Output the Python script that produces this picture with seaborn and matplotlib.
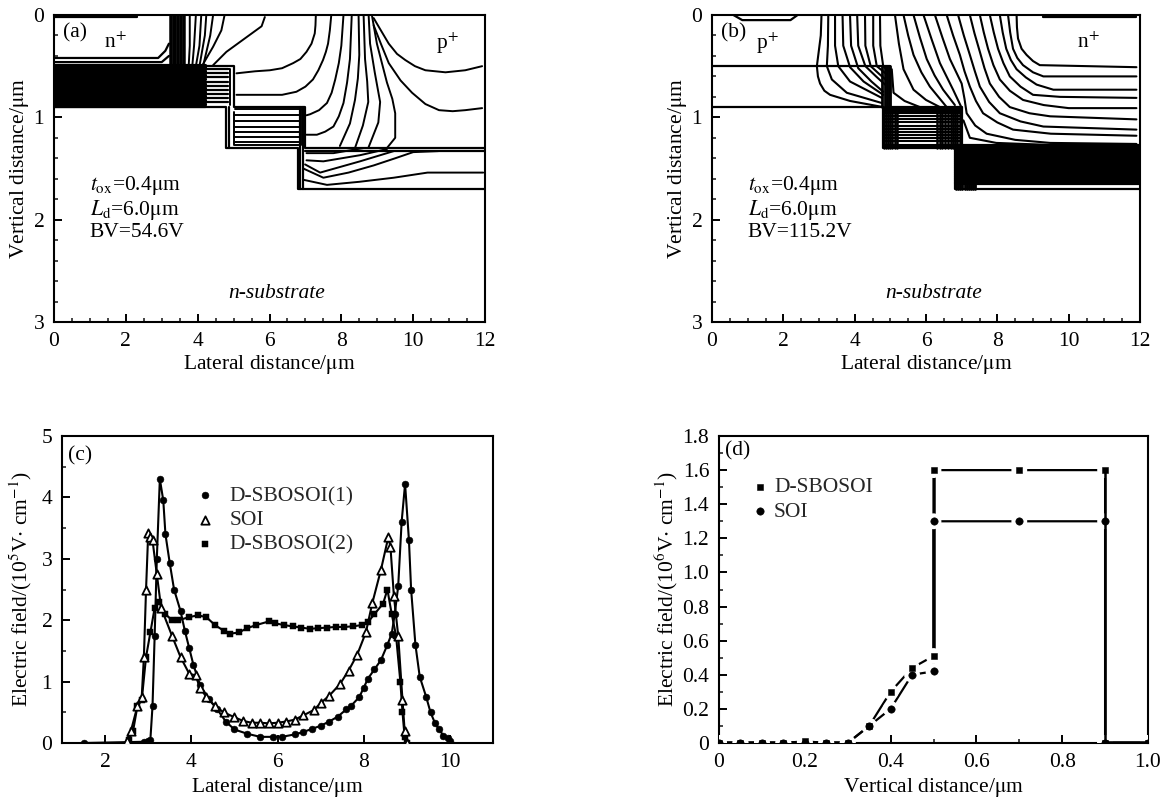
import numpy as np
import pandas as pd
import matplotlib
matplotlib.use("Agg")
import matplotlib.pyplot as plt
import seaborn as sns
from matplotlib.ticker import MultipleLocator

# ---- panel (a) contours, (lateral, vertical) in um
a_outline = [
    [(0, 0.9), (4.8, 0.9), (4.8, 1.3), (6.8, 1.3), (6.8, 1.7), (12, 1.7)],
    [(0, 0.5), (5.0, 0.5), (5.0, 0.9), (7.0, 0.9), (7.0, 1.3), (12, 1.3)],
    [(7.0, 1.33), (12, 1.33)],
    [(0, 0.42), (2.9, 0.42), (3.1, 0.35), (3.2, 0.28)],
    [(0, 0.46), (3.0, 0.46), (3.2, 0.4)],
    [(0, 0.005), (2.3, 0.005)],
    [(0, 0.015), (2.3, 0.015)],
    [(6.85, 0.9), (6.85, 1.7)],
    [(6.93, 0.9), (6.93, 1.7)],
    [(4.88, 0.9), (4.88, 1.3)],
]
a_band_x = [3.22, 3.26, 3.3, 3.34, 3.38, 3.42, 3.46, 3.5, 3.54, 3.58, 3.62]
a_oxide_levels = [0.49, 0.51, 0.53, 0.55, 0.57, 0.59, 0.61, 0.63, 0.65, 0.67, 0.69, 0.71,
                  0.73, 0.75, 0.77, 0.79, 0.81, 0.83, 0.85, 0.87, 0.89]
a_hatch_levels = [0.53, 0.57, 0.61, 0.65, 0.69, 0.73, 0.77, 0.81, 0.85]
a_mid_levels = [0.98, 1.04, 1.09, 1.14, 1.19, 1.24]
a_contours = [
    [(3.78, 0), (3.78, 0.3), (3.75, 0.5)],
    [(3.95, 0), (3.9, 0.3), (3.85, 0.5)],
    [(4.1, 0), (4.05, 0.3), (3.95, 0.5)],
    [(4.24, 0), (4.2, 0.2), (4.05, 0.5)],
    [(4.43, 0), (4.35, 0.2), (4.15, 0.5)],
    [(4.75, 0), (4.66, 0.15), (4.43, 0.31), (4.15, 0.48)],
    [(5.87, 0.02), (5.78, 0.11), (5.27, 0.24), (4.8, 0.36), (4.43, 0.49)],
    [(7.29, 0), (7.28, 0.1), (7.26, 0.18), (7.17, 0.28), (7.03, 0.36), (6.86, 0.43), (6.66, 0.47),
     (6.35, 0.52), (6.01, 0.54), (5.6, 0.55), (5.08, 0.57)],
    [(7.72, 0), (7.68, 0.15), (7.63, 0.28), (7.57, 0.36), (7.49, 0.44), (7.36, 0.54), (7.21, 0.63),
     (7.0, 0.7), (6.75, 0.75), (6.35, 0.78), (5.92, 0.78), (5.08, 0.78)],
    [(8.06, 0), (8.0, 0.3), (7.93, 0.47), (7.83, 0.63), (7.73, 0.76), (7.6, 0.86), (7.38, 0.93),
     (7.13, 0.97), (7.03, 0.98)],
    [(8.29, 0), (8.24, 0.43), (8.16, 0.66), (8.06, 0.86), (7.93, 0.99), (7.78, 1.09), (7.55, 1.14),
     (7.32, 1.17), (7.03, 1.17)],
    [(8.48, 0), (8.5, 0.39), (8.46, 0.62), (8.38, 0.83), (8.24, 1.06), (7.96, 1.28)],
    [(8.62, 0), (8.66, 0.43), (8.72, 0.65), (8.75, 0.85), (8.6, 1.08), (8.38, 1.3)],
    [(8.76, 0), (8.8, 0.28), (8.93, 0.56), (9.08, 0.85), (9.03, 1.05), (8.75, 1.3)],
    [(8.85, 0), (8.99, 0.28), (9.27, 0.66), (9.42, 0.82), (9.5, 0.96), (9.5, 1.2), (9.27, 1.3)],
    [(8.9, 0.03), (9.05, 0.12), (9.32, 0.28), (9.55, 0.38), (9.78, 0.44), (10.05, 0.5), (10.34, 0.54),
     (10.9, 0.56), (11.45, 0.54), (11.92, 0.5)],
    [(8.9, 0.1), (9.1, 0.28), (9.32, 0.47), (9.65, 0.64), (9.97, 0.76), (10.34, 0.87), (10.72, 0.93),
     (11.1, 0.94), (11.45, 0.93), (11.92, 0.91)],
    [(7.03, 1.35), (7.78, 1.35), (8.62, 1.3)],
    [(7.03, 1.42), (7.5, 1.43), (8.52, 1.37), (9.27, 1.31)],
    [(6.99, 1.46), (7.41, 1.54), (8.52, 1.43), (9.46, 1.33)],
    [(6.94, 1.5), (7.5, 1.59), (8.2, 1.54), (8.9, 1.47), (9.5, 1.4), (10.0, 1.34), (10.7, 1.33)],
    [(6.94, 1.61), (7.6, 1.66), (8.5, 1.63), (9.46, 1.59), (10.4, 1.54), (11.95, 1.54)],
    [(5.0, 0.95), (5.0, 1.27), (6.85, 1.27)],
    [(5.05, 0.92), (6.9, 0.92), (6.9, 1.27)],
    [(4.4, 0.53), (4.9, 0.53), (4.9, 0.88)],
]

# ---- panel (b) contours
b_outline = [
    [(0, 0.9), (4.8, 0.9), (4.8, 1.3), (6.8, 1.3), (6.8, 1.7), (12, 1.7)],
    [(0, 0.5), (5.0, 0.5), (5.0, 0.9), (7.0, 0.9), (7.0, 1.3), (12, 1.3)],
    [(9.29, 0.005), (11.9, 0.005)],
    [(9.29, 0.015), (11.9, 0.015)],
    [(0.6, 0), (0.85, 0.05), (2.2, 0.05), (2.4, 0)],
]
b_contours = [
    [(3.07, 0), (3.05, 0.2), (2.94, 0.5), (2.97, 0.6), (3.03, 0.67), (3.15, 0.74), (3.31, 0.78),
     (3.87, 0.84), (4.8, 0.9)],
    [(3.26, 0), (3.25, 0.3), (3.22, 0.5), (3.36, 0.63), (3.78, 0.76), (4.76, 0.86)],
    [(3.45, 0), (3.45, 0.3), (3.54, 0.5), (3.87, 0.65), (4.76, 0.81)],
    [(3.66, 0), (3.68, 0.3), (3.87, 0.51), (4.25, 0.65), (4.8, 0.78)],
    [(3.87, 0), (3.9, 0.3), (4.1, 0.52), (4.47, 0.65), (4.8, 0.75)],
    [(4.07, 0), (4.1, 0.3), (4.3, 0.5), (4.6, 0.6), (4.85, 0.68)],
    [(4.29, 0), (4.3, 0.3), (4.45, 0.5), (4.7, 0.58), (4.9, 0.64)],
    [(4.52, 0), (4.52, 0.3), (4.62, 0.5), (4.9, 0.58)],
    [(4.71, 0), (4.72, 0.3), (4.8, 0.5), (4.95, 0.55)],
    [(8.54, 0), (8.55, 0.12), (8.58, 0.23), (8.68, 0.33), (8.82, 0.39), (9.0, 0.45), (9.19, 0.49), (11.9, 0.51)],
    [(8.3, 0), (8.36, 0.17), (8.44, 0.33), (8.56, 0.42), (8.72, 0.49), (9.0, 0.56), (9.29, 0.6), (11.9, 0.6)],
    [(8.07, 0), (8.15, 0.17), (8.25, 0.33), (8.38, 0.44), (8.54, 0.53), (8.8, 0.61), (9.1, 0.68),
     (9.57, 0.73), (11.9, 0.73)],
    [(7.79, 0), (7.9, 0.17), (8.02, 0.33), (8.17, 0.47), (8.35, 0.6), (8.65, 0.7), (9.0, 0.78),
     (9.76, 0.8), (11.9, 0.81)],
    [(7.51, 0), (7.62, 0.17), (7.74, 0.33), (7.89, 0.49), (8.07, 0.63), (8.35, 0.74), (8.72, 0.83),
     (9.3, 0.88), (10.0, 0.91), (11.9, 0.91)],
    [(7.23, 0), (7.36, 0.18), (7.51, 0.36), (7.64, 0.52), (7.79, 0.67), (8.05, 0.8), (8.35, 0.9),
     (8.9, 0.96), (9.48, 0.99), (11.9, 1.02)],
    [(6.9, 0), (7.06, 0.2), (7.23, 0.39), (7.37, 0.55), (7.51, 0.7), (7.77, 0.85), (8.07, 0.96),
     (8.65, 1.04), (9.29, 1.09), (11.9, 1.12)],
    [(6.58, 0), (6.76, 0.2), (6.95, 0.39), (7.08, 0.55), (7.23, 0.7), (7.4, 0.84), (7.6, 0.96),
     (8.0, 1.05), (8.44, 1.12), (9.5, 1.16), (11.9, 1.18)],
    [(6.25, 0), (6.46, 0.22), (6.67, 0.43), (7.0, 0.67), (7.08, 0.82), (7.14, 0.96), (7.38, 1.08),
     (7.7, 1.16), (8.5, 1.22), (9.48, 1.25), (11.9, 1.26)],
    [(7.05, 1.03), (7.23, 1.2), (7.97, 1.25), (9.48, 1.27)],
    [(5.93, 0), (6.16, 0.24), (6.39, 0.47), (6.76, 0.73), (6.99, 0.9)],
    [(5.65, 0), (5.83, 0.22), (6.02, 0.43), (6.24, 0.59), (6.48, 0.73), (6.81, 0.88)],
    [(5.37, 0), (5.5, 0.2), (5.65, 0.39), (5.87, 0.56), (6.11, 0.7), (6.58, 0.9)],
    [(5.13, 0), (5.24, 0.28), (5.37, 0.53), (5.65, 0.73), (6.0, 0.83), (6.39, 0.9)],
    [(5.04, 0.53), (5.09, 0.76), (5.4, 0.84), (5.83, 0.9)],
]
b_band_x = [4.78, 4.84, 4.9, 4.96, 5.0]
b_sub_levels = [1.27, 1.29, 1.31, 1.33, 1.35, 1.37, 1.39, 1.41, 1.43, 1.45, 1.47, 1.49, 1.51,
                1.53, 1.55, 1.57, 1.59, 1.61, 1.63, 1.645]
b_sub_left_x = [6.84, 6.9, 6.96, 7.02, 7.08, 7.14, 7.2, 7.26, 7.32, 7.37]
b_mid_levels = [0.92, 0.94, 0.96, 0.99, 1.02, 1.05, 1.08, 1.11, 1.14, 1.17, 1.2, 1.23, 1.27, 1.29]
b_mid_left_x = [4.82, 4.88, 4.94, 5.0, 5.06, 5.12, 5.18]
b_mid_right_x = [6.3, 6.38, 6.46, 6.54, 6.62, 6.7, 6.76, 6.82, 6.88, 6.94]

# ---- panel (c), electric field along lateral distance
c_dsb1_x = [1.5, 2.9, 3.0, 3.05, 3.1, 3.15, 3.2, 3.27, 3.35, 3.4, 3.5, 3.6, 3.75, 3.85, 3.95, 4.05,
            4.2, 4.4, 4.6, 4.8, 5.0, 5.3, 5.6, 5.9, 6.1, 6.4, 6.6, 6.8, 7.0, 7.2, 7.4, 7.6, 7.7,
            7.9, 8.0, 8.1, 8.25, 8.4, 8.55, 8.65, 8.72, 8.8, 8.88, 8.96, 9.05, 9.1, 9.2, 9.3,
            9.45, 9.55, 9.65, 9.75, 9.85, 9.95, 10.0]
c_dsb1_y = [0, 0.02, 0.03, 0.05, 0.6, 1.75, 3.0, 4.3, 3.95, 3.4, 2.93, 2.5, 2.15, 1.83, 1.55, 1.27,
            0.95, 0.72, 0.55, 0.35, 0.22, 0.15, 0.1, 0.1, 0.1, 0.14, 0.18, 0.23, 0.28, 0.35, 0.43,
            0.55, 0.6, 0.75, 0.9, 1.05, 1.2, 1.35, 1.6, 1.78, 2.1, 2.55, 3.6, 4.22, 3.3, 2.5, 1.6,
            1.08, 0.75, 0.5, 0.33, 0.22, 0.12, 0.08, 0.03]
c_soi_x = [2.5, 2.6, 2.75, 2.85, 2.9, 2.95, 3.0, 3.05, 3.1, 3.2, 3.3, 3.55, 3.75, 3.95, 4.1, 4.2,
           4.35, 4.55, 4.75, 5.0, 5.2, 5.4, 5.6, 5.8, 6.0, 6.2, 6.4, 6.6, 6.85, 7.0, 7.2, 7.45,
           7.65, 7.85, 8.05, 8.2, 8.4, 8.57, 8.62, 8.7, 8.8, 8.9, 8.95, 9.0]
c_soi_y = [0.03, 0.2, 0.6, 0.75, 1.4, 2.5, 3.42, 3.35, 3.3, 2.75, 2.2, 1.75, 1.4, 1.13, 1.1, 0.9,
           0.75, 0.6, 0.5, 0.42, 0.36, 0.33, 0.33, 0.32, 0.33, 0.35, 0.38, 0.45, 0.54, 0.65, 0.77,
           0.96, 1.18, 1.44, 1.8, 2.28, 2.82, 3.35, 3.2, 2.4, 1.75, 0.7, 0.2, 0]
c_dsb2_x = [2.55, 2.65, 2.75, 2.85, 2.95, 3.05, 3.15, 3.25, 3.4, 3.55, 3.7, 3.95, 4.15, 4.35, 4.55,
            4.75, 4.9, 5.1, 5.3, 5.5, 5.8, 5.95, 6.15, 6.35, 6.55, 6.75, 6.95, 7.15, 7.35, 7.55,
            7.75, 7.95, 8.1, 8.25, 8.45, 8.55, 8.65, 8.75, 8.85, 8.9, 8.95, 9.0]
c_dsb2_y = [0.05, 0.2, 0.6, 0.7, 1.4, 1.8, 2.2, 2.3, 2.1, 2.0, 2.0, 2.05, 2.08, 2.05, 1.92, 1.83,
            1.78, 1.8, 1.87, 1.92, 1.98, 1.95, 1.92, 1.9, 1.88, 1.86, 1.87, 1.88, 1.89, 1.89, 1.9,
            1.92, 1.97, 2.1, 2.27, 2.5, 2.1, 1.75, 1.0, 0.5, 0.1, 0]

# ---- panel (d), electric field along vertical distance
d_x = [0, 0.05, 0.1, 0.15, 0.2, 0.25, 0.3, 0.35, 0.4, 0.45, 0.5, 0.5, 0.7, 0.9, 0.9, 1.0]
d_dsb_y = [0, 0, 0, 0, 0.01, 0, 0, 0.1, 0.3, 0.44, 0.51, 1.6, 1.6, 1.6, 0, 0]
d_soi_y = [0, 0, 0, 0, 0, 0, 0, 0.1, 0.2, 0.4, 0.42, 1.3, 1.3, 1.3, 0, 0]

W, H = 1168, 797
SERIF = ["Liberation Serif", "DejaVu Serif"]

sns.set_theme(style="ticks")
plt.rcParams["font.family"] = SERIF
plt.rcParams["mathtext.fontset"] = "stix"
plt.rcParams["axes.linewidth"] = 1.5
FS = 15.5
DENSE = 2.3


def make_axes(fig, left, right, top, bottom):
    return fig.add_axes([left / W, 1 - bottom / H, (right - left) / W, (bottom - top) / H])


def draw_paths(ax, paths, lw=1.2):
    rows = []
    for i, p in enumerate(paths):
        for x, y in p:
            rows.append((i, x, y))
    df = pd.DataFrame(rows, columns=["id", "x", "y"])
    sns.lineplot(data=df, x="x", y="y", units="id", estimator=None, sort=False,
                 color="black", linewidth=lw, ax=ax, legend=False)


def hlines(levels, x0, x1):
    return [[(x0, y), (x1, y)] for y in levels]


def vlines(xs, y0, y1):
    return [[(x, y0), (x, y1)] for x in xs]


def style_axes(ax, xlabel, ylabel, xmaj, xmin, ymaj, ymin, xpad, ypad):
    ax.xaxis.set_major_locator(MultipleLocator(xmaj))
    ax.xaxis.set_minor_locator(MultipleLocator(xmin))
    ax.yaxis.set_major_locator(MultipleLocator(ymaj))
    ax.yaxis.set_minor_locator(MultipleLocator(ymin))
    ax.tick_params(which="major", direction="in", length=6, width=1.4, labelsize=FS, pad=7, colors="black")
    ax.tick_params(which="minor", direction="in", length=3, width=1.2)
    ax.set_xlabel(xlabel, fontsize=FS, labelpad=xpad, color="black")
    ax.set_ylabel(ylabel, fontsize=FS, labelpad=ypad, color="black")
    for s in ax.spines.values():
        s.set_visible(True)
        s.set_color("black")


def section_text(ax, tag, tx, left, right, bv):
    ax.text(0.25, 0.17, tag, fontsize=FS, va="center", ha="left", color="black")
    ax.text(left[0], left[1], left[2], fontsize=FS, ha="center", va="center", color="black")
    ax.text(right[0], right[1], right[2], fontsize=FS, ha="center", va="center", color="black")
    ax.text(tx, 1.67, r"$t_{\rm ox}$=0.4$\mathrm{\mu}$m", fontsize=FS, va="center", color="black")
    ax.text(tx, 1.91, r"$L_{\rm d}$=6.0$\mathrm{\mu}$m", fontsize=FS, va="center", color="black")
    ax.text(tx, 2.13, bv, fontsize=FS, va="center", color="black")
    ax.text(6.2, 2.72, "n-substrate", fontsize=FS, style="italic", ha="center", va="center", color="black")


fig = plt.figure(figsize=(W / 100, H / 100), dpi=100)

# (a)
ax = make_axes(fig, 54, 485, 15, 322)
draw_paths(ax, a_outline, 1.6)
draw_paths(ax, a_contours, 1.4)
draw_paths(ax, hlines(a_oxide_levels, 0, 4.2), DENSE)
draw_paths(ax, vlines(a_band_x, 0, 0.5), 1.8)
draw_paths(ax, hlines(a_hatch_levels, 4.2, 4.85), 1.6)
draw_paths(ax, hlines(a_mid_levels, 5.0, 6.85), 1.4)
ax.set_xlim(0, 12)
ax.set_ylim(3, 0)
style_axes(ax, "Lateral distance/$\\mathrm{\\mu}$m", "Vertical distance/$\\mathrm{\\mu}$m", 2, 0.5, 1, 0.2, 2, 2)
section_text(ax, "(a)", 1.0, (1.7, 0.27, "n$^{+}$"), (10.95, 0.28, "p$^{+}$"), "BV=54.6V")

# (b)
ax = make_axes(fig, 712, 1140, 15, 322)
draw_paths(ax, b_outline, 1.6)
draw_paths(ax, b_contours, 1.5)
draw_paths(ax, vlines(b_band_x, 0.5, 0.9), 2.0)
draw_paths(ax, hlines(b_sub_levels, 6.8, 12), DENSE)
draw_paths(ax, vlines(b_sub_left_x, 1.3, 1.7), 2.0)
draw_paths(ax, hlines(b_mid_levels, 4.8, 7.0), 1.5)
draw_paths(ax, vlines(b_mid_left_x, 0.9, 1.3), 1.8)
draw_paths(ax, vlines(b_mid_right_x, 0.9, 1.3), 1.8)
ax.set_xlim(0, 12)
ax.set_ylim(3, 0)
style_axes(ax, "Lateral distance/$\\mathrm{\\mu}$m", "Vertical distance/$\\mathrm{\\mu}$m", 2, 0.5, 1, 0.2, 2, 2)
section_text(ax, "(b)", 1.0, (1.55, 0.28, "p$^{+}$"), (10.55, 0.27, "n$^{+}$"), "BV=115.2V")

# (c)
ax = make_axes(fig, 62, 493, 436, 743)
for xs, ys, marker, size, name in [
    (c_dsb1_x, c_dsb1_y, "o", 24, "D-SBOSOI(1)"),
    (c_soi_x, c_soi_y, "^", 36, "SOI"),
    (c_dsb2_x, c_dsb2_y, "s", 18, "D-SBOSOI(2)"),
]:
    sns.lineplot(x=xs, y=ys, sort=False, estimator=None, color="black", linewidth=1.5, ax=ax, legend=False)
    if marker == "^":
        sns.scatterplot(x=xs, y=ys, marker=marker, s=size, facecolor="white", edgecolor="black",
                        linewidth=1.3, ax=ax, label=name, zorder=4)
    else:
        sns.scatterplot(x=xs, y=ys, marker=marker, s=size, color="black", edgecolor="black",
                        ax=ax, label=name, zorder=3)
ax.set_xlim(1, 11)
ax.set_ylim(0, 5)
style_axes(ax, "Lateral distance/$\\mathrm{\\mu}$m", "Electric field/(10$^{5}$V$\\cdot$ cm$^{-1}$)",
           2, 2, 1, 0.5, 3, 5)
ax.text(1.15, 4.67, "(c)", fontsize=FS, va="center", color="black")
ax.legend(loc="upper left", bbox_to_anchor=(0.306, 0.837), frameon=False, fontsize=FS,
          handlelength=1.0, handletextpad=0.66, labelspacing=0.2, borderpad=0, borderaxespad=0)

# (d)
ax = make_axes(fig, 719, 1148, 436, 743)
for ys, marker, size, name in [(d_dsb_y, "s", 22, "D-SBOSOI"), (d_soi_y, "o", 28, "SOI")]:
    sns.lineplot(x=d_x, y=ys, sort=False, estimator=None, color="black", linewidth=1.6, ax=ax, legend=False)
    sns.scatterplot(x=d_x, y=ys, marker="o", s=130, color="white", edgecolor="none", ax=ax, zorder=3)
for ys, marker, size, name in [(d_dsb_y, "s", 22, "D-SBOSOI"), (d_soi_y, "o", 28, "SOI")]:
    sns.scatterplot(x=d_x, y=ys, marker=marker, s=size, color="black", edgecolor="black",
                    ax=ax, label=name, zorder=4)
# vertical walls and the zero baseline run through the break points
draw_paths(ax, [[(0.5, 0.51), (0.5, 1.6)], [(0.9, 1.6), (0.9, 0)]], 1.8)
ax.lines[-1].set_zorder(3.5)
draw_paths(ax, [[(0, 0), (0.3, 0)], [(0.9, 0), (1.0, 0)]], 2.6)
ax.lines[-1].set_zorder(3.5)
ax.set_xlim(0, 1)
ax.set_ylim(0, 1.8)
style_axes(ax, "Vertical distance/$\\mathrm{\\mu}$m", "Electric field/(10$^{6}$V$\\cdot$ cm$^{-1}$)",
           0.2, 0.1, 0.2, 0.1, 3, 2)
ax.xaxis.set_major_formatter(lambda v, pos: "0" if abs(v) < 1e-9 else f"{v:.1f}")
ax.yaxis.set_major_formatter(lambda v, pos: "0" if abs(v) < 1e-9 else f"{v:.1f}")
ax.text(0.015, 1.71, "(d)", fontsize=FS, va="center", color="black")
ax.legend(loc="upper left", bbox_to_anchor=(0.083, 0.866), frameon=False, fontsize=FS,
          handlelength=0.5, handletextpad=0.4, labelspacing=0.2, borderpad=0, borderaxespad=0)

fig.savefig("out.png", dpi=100)
